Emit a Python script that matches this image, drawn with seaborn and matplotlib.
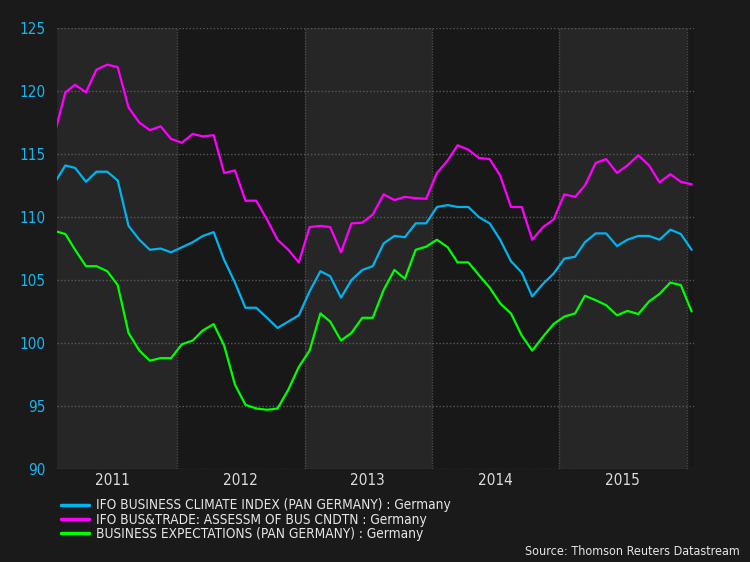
import pandas as pd
import matplotlib
matplotlib.use('Agg')
import matplotlib.pyplot as plt
from matplotlib import font_manager as fm
import seaborn as sns

# --- DATA (monthly, Jan 2011 .. Jan 2016) ---
climate = [112.7, 114.1, 113.9, 112.8, 113.6, 113.6, 112.9, 109.3, 108.2, 107.4, 107.5, 107.2,
           107.6, 108.0, 108.5, 108.8, 106.6, 104.8, 102.8, 102.8, 102.0, 101.2, 101.7, 102.2,
           104.1, 105.7, 105.3, 103.6, 105.0, 105.8, 106.1, 107.9, 108.5, 108.4, 109.5, 109.5,
           110.8, 110.95, 110.8, 110.8, 110.0, 109.5, 108.2, 106.5, 105.6, 103.7, 104.7, 105.5,
           106.7, 106.85, 108.0, 108.7, 108.7, 107.7, 108.2, 108.5, 108.5, 108.2, 109.0, 108.65,
           107.4]
assessment = [116.6, 119.9, 120.5, 119.9, 121.7, 122.1, 121.9, 118.7, 117.5, 116.9, 117.2, 116.2,
              115.9, 116.6, 116.4, 116.5, 113.5, 113.7, 111.3, 111.3, 109.8, 108.2, 107.4, 106.4,
              109.2, 109.3, 109.2, 107.2, 109.5, 109.55, 110.2, 111.8, 111.35, 111.6, 111.5, 111.45,
              113.5, 114.5, 115.7, 115.35, 114.7, 114.6, 113.3, 110.8, 110.8, 108.2, 109.2, 109.8,
              111.8, 111.6, 112.5, 114.3, 114.6, 113.5, 114.1, 114.9, 114.1, 112.75, 113.4, 112.8,
              112.6]
expectations = [108.9, 108.65, 107.4, 106.1, 106.1, 105.7, 104.6, 100.8, 99.4, 98.6, 98.8, 98.8,
                99.9, 100.2, 101.0, 101.5, 99.8, 96.7, 95.1, 94.8, 94.7, 94.8, 96.3, 98.1,
                99.4, 102.35, 101.7, 100.2, 100.8, 102.0, 102.0, 104.2, 105.8, 105.1, 107.4, 107.65,
                108.2, 107.6, 106.4, 106.4, 105.4, 104.4, 103.15, 102.35, 100.6, 99.4, 100.5, 101.5,
                102.1, 102.35, 103.75, 103.4, 103.0, 102.2, 102.55, 102.3, 103.3, 103.9, 104.8, 104.6,
                102.5]
years = [2011, 2012, 2013, 2014, 2015]
y_ticks = [90, 95, 100, 105, 110, 115, 120, 125]

names = ['IFO BUSINESS CLIMATE INDEX (PAN GERMANY) : Germany',
         'IFO BUS&TRADE: ASSESSM OF BUS CNDTN : Germany',
         'BUSINESS EXPECTATIONS (PAN GERMANY) : Germany']
colors = {names[0]: '#00b4f0', names[1]: '#ff00ff', names[2]: '#00ff00'}

dates = pd.date_range('2011-01-01', periods=len(climate), freq='MS') + pd.Timedelta(days=14)
df = pd.concat([
    pd.DataFrame({'date': dates, 'value': climate, 'series': names[0]}),
    pd.DataFrame({'date': dates, 'value': assessment, 'series': names[1]}),
    pd.DataFrame({'date': dates, 'value': expectations, 'series': names[2]}),
])

# --- STYLE ---
BG = '#1a1a1a'
sns.set_style('dark')

# a narrow sans face is closest to the original; fall back if none is installed
avail = {f.name for f in fm.fontManager.ttflist}
dejavu_cond = any('DejaVuSansCondensed' in f.fname.replace('-', '') for f in fm.fontManager.ttflist)
if 'Liberation Sans Narrow' in avail:
    plt.rcParams['font.family'] = ['Liberation Sans Narrow', 'DejaVu Sans']
    FS = 10.8
elif dejavu_cond:
    plt.rcParams['font.family'] = ['DejaVu Sans']
    plt.rcParams['font.stretch'] = 'condensed'
    FS = 9.8
else:
    plt.rcParams['font.family'] = ['Liberation Sans', 'DejaVu Sans']
    FS = 9.0
FS_SRC = FS * 0.92

fig = plt.figure(figsize=(7.5, 5.62), dpi=100, facecolor=BG)
ax = fig.add_axes([0.076, 0.1655, 0.849, 0.7845])
ax.set_facecolor('#181818')

# year bands
for i, yr in enumerate(years + [2016]):
    c = '#262626' if i % 2 == 0 else '#181818'
    ax.axvspan(pd.Timestamp(f'{yr}-01-01'), pd.Timestamp(f'{yr + 1}-01-01'), color=c, zorder=0, lw=0)
for yr in years[1:] + [2016]:
    ax.axvline(pd.Timestamp(f'{yr}-01-01'), color='#4a4a4a', lw=1, ls=(0, (1, 1)), zorder=1)
for y in y_ticks:
    ax.axhline(y, color='#5a5a5a', lw=1, ls=(0, (1, 1.5)), zorder=1)

sns.lineplot(data=df, x='date', y='value', hue='series', palette=colors, linewidth=1.6,
             ax=ax, legend=False, zorder=3)

ax.set_xlim(pd.Timestamp('2011-01-22'), pd.Timestamp('2016-01-21'))
ax.set_ylim(90, 125)
ax.set_yticks(y_ticks)
ax.set_yticklabels([str(v) for v in y_ticks], color='#1ab4f0', fontsize=11)
ax.set_xticks([pd.Timestamp(f'{yr}-07-01') for yr in years])
ax.set_xticklabels([str(yr) for yr in years], color='#dddddd', fontsize=11)
ax.tick_params(axis='y', length=0, pad=8)
ax.tick_params(axis='x', length=0, pad=3)
ax.set_xlabel('')
ax.set_ylabel('')
ax.grid(False)
for s in ax.spines.values():
    s.set_visible(False)

# legend below the plot
fs_px = FS * 100 / 72
handles = [plt.Line2D([], [], color=colors[n], lw=2.5) for n in names]
fig.legend(handles, names, loc='upper left', bbox_to_anchor=(0.081, 0.113),
           frameon=False, fontsize=FS, labelcolor='#e6e6e6', handlelength=28 / fs_px,
           handletextpad=7 / fs_px, labelspacing=0.02, borderpad=0, borderaxespad=0)

fig.text(0.986, 0.018, 'Source: Thomson Reuters Datastream', ha='right', va='center',
         color='#e6e6e6', fontsize=FS_SRC)

fig.savefig('out.png', dpi=100, facecolor=BG)
